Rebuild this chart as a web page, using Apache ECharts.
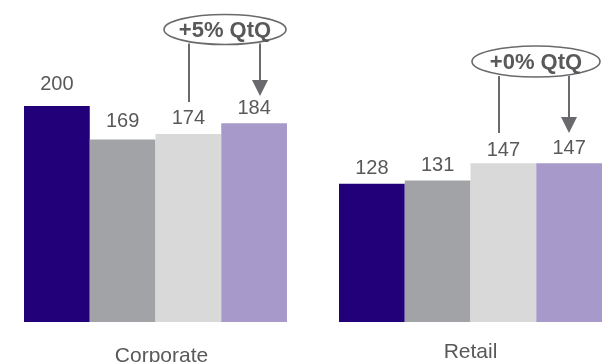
<!DOCTYPE html>
<html>
<head>
<meta charset="utf-8">
<script src="https://cdn.jsdelivr.net/npm/echarts@6/dist/echarts.min.js"></script>
<style>
  html, body { margin: 0; padding: 0; background: #ffffff; }
  #chart { width: 610px; height: 362px; }
</style>
</head>
<body>
<div id="chart"></div>
<script>
// ---- data ----
const categories = ['Corporate', 'Retail'];
const periodNames = ['Period 1', 'Period 2', 'Period 3', 'Period 4'];
const period1 = [200, 128];
const period2 = [169, 131];
const period3 = [174, 147];
const period4 = [184, 147];
const changeLabels = ['+5% QtQ', '+0% QtQ'];

// ---- styles ----
const barColors = ['#22007a', '#a2a3a6', '#d9d9d9', '#a899cb'];
const textColor = '#595959';
const annoColor = '#6a6a6e';
const FONT = 'Liberation Sans, Arial, sans-serif';

const allSeriesData = [period1, period2, period3, period4];

const chart = echarts.init(document.getElementById('chart'), null, { renderer: 'canvas' });

// extra label lift (px) for individual labels, by [series][category]
const labelLift = [[7, 0], [3, 0], [1, -2], [0, 0]];

const series = allSeriesData.map((d, i) => ({
  name: periodNames[i],
  type: 'bar',
  data: d.map((v, j) => ({
    value: v,
    label: { distance: 5 + labelLift[i][j] }
  })),
  barWidth: 65.75,
  barGap: '0%',
  itemStyle: { color: barColors[i] },
  label: {
    show: true,
    position: 'top',
    distance: 5,
    color: textColor,
    fontFamily: FONT,
    fontSize: 20
  },
  silent: true,
  animation: false
}));

// annotation shapes (callout ellipses and arrows)
function callout(cx, cy, rx, ry, text, lineX, lineEndY, arrowX, arrowTipY) {
  const head = 16;
  const half = 8;
  return [
    { type: 'line', shape: { x1: lineX, y1: cy + ry - 1, x2: lineX, y2: lineEndY },
      style: { stroke: annoColor, lineWidth: 2 } },
    { type: 'line', shape: { x1: arrowX, y1: cy + ry - 1, x2: arrowX, y2: arrowTipY - head + 2 },
      style: { stroke: annoColor, lineWidth: 2 } },
    { type: 'polygon', shape: { points: [[arrowX - half, arrowTipY - head], [arrowX + half, arrowTipY - head], [arrowX, arrowTipY]] },
      style: { fill: annoColor } },
    { type: 'ellipse', shape: { cx: cx, cy: cy, rx: rx, ry: ry },
      style: { fill: '#ffffff', stroke: annoColor, lineWidth: 1.6 } },
    { type: 'text', x: cx, y: cy + 1,
      style: { text: text, fill: textColor, font: 'bold 22px ' + FONT, align: 'center', verticalAlign: 'middle' } }
  ];
}

const graphics = []
  .concat(callout(225, 29.5, 61, 15, changeLabels[0], 189, 102, 260, 96))
  .concat(callout(536, 61.5, 64, 15.5, changeLabels[1], 499, 133, 569, 133));

chart.setOption({
  animation: false,
  backgroundColor: '#ffffff',
  grid: { left: -2, width: 630, top: 52, height: 270, containLabel: false, outerBoundsMode: 'none' },
  xAxis: {
    type: 'category',
    data: categories,
    axisLine: { show: false },
    axisTick: { show: false },
    splitLine: { show: false },
    axisLabel: {
      margin: 20,
      color: textColor,
      fontFamily: FONT,
      fontSize: 21,
      formatter: function (v, i) { return i === 0 ? '{low|' + v + '}' : '{high|' + v + '}'; },
      rich: {
        low: { color: textColor, fontFamily: FONT, fontSize: 21, padding: [4, 0, 0, 12] },
        high: { color: textColor, fontFamily: FONT, fontSize: 21 }
      }
    }
  },
  yAxis: {
    type: 'value',
    min: 0,
    max: 250,
    show: false,
    splitLine: { show: false }
  },
  series: series,
  graphic: graphics
});
</script>
</body>
</html>
